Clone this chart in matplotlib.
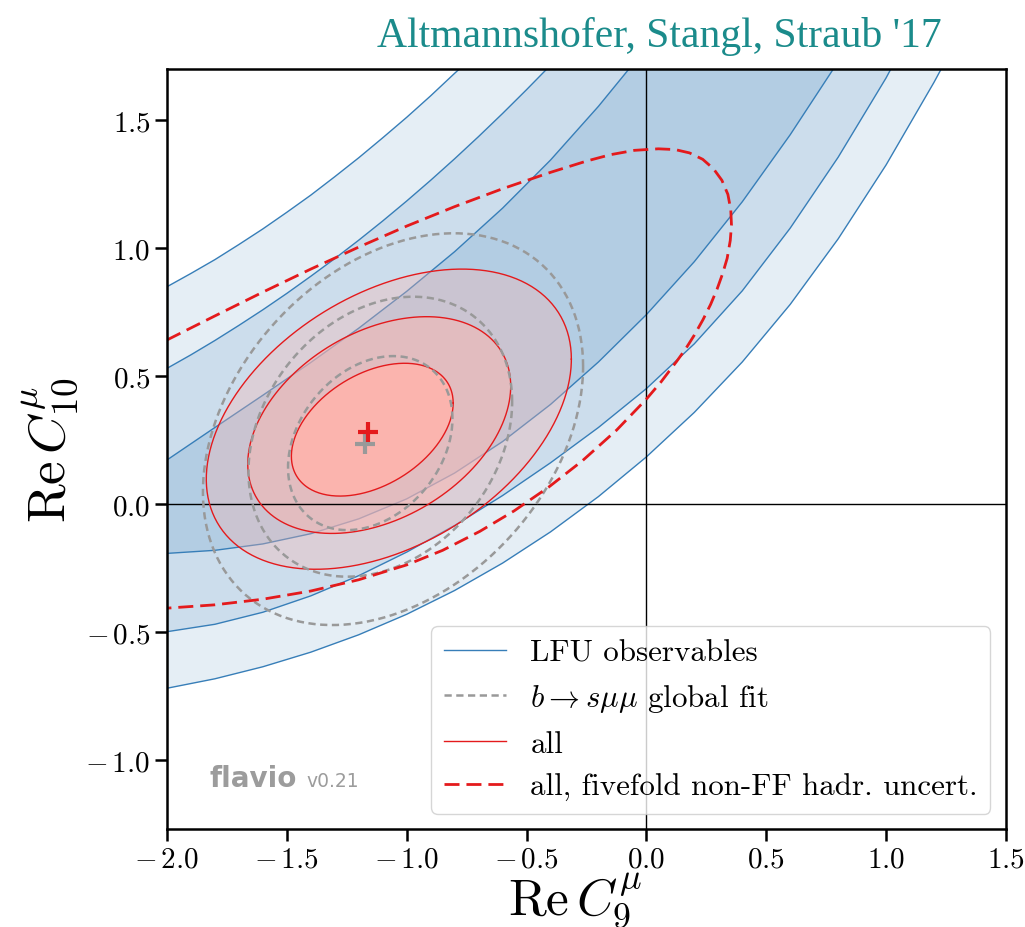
import matplotlib
matplotlib.use("Agg")
import matplotlib.pyplot as plt
import numpy as np
from matplotlib.path import Path
from matplotlib.patches import PathPatch
from matplotlib.lines import Line2D

plt.rcParams['mathtext.fontset'] = 'cm'
plt.rcParams['font.family'] = ['cmr10', 'DejaVu Serif']
plt.rcParams['axes.unicode_minus'] = False

# LFU observables: band edges (Re C9, Re C10)
# upper 3 sigma, upper 2 sigma, upper 1 sigma, lower 1 sigma, lower 2 sigma, lower 3 sigma
lfu_a_x = [-2.0, -1.9, -1.8, -1.7, -1.6, -1.5, -1.4, -1.3, -1.2, -1.1, -1.0, -0.9, -0.8, -0.78]
lfu_a_y = [0.849, 0.901, 0.955, 1.014, 1.075, 1.140, 1.207, 1.279, 1.353, 1.431, 1.511, 1.595, 1.683, 1.70]
lfu_b_x = [-2.0, -1.9, -1.8, -1.7, -1.6, -1.5, -1.4, -1.3, -1.2, -1.1, -1.0, -0.9, -0.8, -0.7, -0.6, -0.5, -0.41]
lfu_b_y = [0.530, 0.583, 0.639, 0.698, 0.759, 0.823, 0.890, 0.959, 1.031, 1.106, 1.184, 1.265, 1.349, 1.436, 1.526, 1.619, 1.705]
lfu_c_x = [-2.0, -1.8, -1.6, -1.4, -1.2, -1.0, -0.8, -0.6, -0.4, -0.2, -0.07]
lfu_c_y = [0.172, 0.299, 0.425, 0.553, 0.687, 0.831, 0.986, 1.156, 1.344, 1.554, 1.703]
lfu_d_x = [-2.0, -1.8, -1.6, -1.4, -1.2, -1.0, -0.8, -0.6, -0.4, -0.2, 0.0, 0.2, 0.4, 0.6, 0.78]
lfu_d_y = [-0.193, -0.181, -0.156, -0.116, -0.058, 0.020, 0.121, 0.244, 0.389, 0.555, 0.740, 0.947, 1.181, 1.443, 1.70]
lfu_e_x = [-2.0, -1.8, -1.6, -1.4, -1.2, -1.0, -0.8, -0.6, -0.4, -0.2, 0.0, 0.2, 0.4, 0.6, 0.8, 1.0, 1.02]
lfu_e_y = [-0.499, -0.470, -0.423, -0.359, -0.280, -0.188, -0.084, 0.033, 0.161, 0.299, 0.451,
           0.626, 0.833, 1.078, 1.355, 1.665, 1.70]
lfu_f_x = [-2.0, -1.8, -1.6, -1.4, -1.2, -1.0, -0.8, -0.6, -0.4, -0.2, 0.0, 0.2, 0.4, 0.6, 0.8, 1.0, 1.2, 1.23]
lfu_f_y = [-0.720, -0.683, -0.636, -0.579, -0.511, -0.431, -0.338, -0.231, -0.109, 0.029, 0.184,
           0.358, 0.555, 0.780, 1.036, 1.325, 1.648, 1.70]

# contours as (centre x, centre y, half width, half height, correlation), 1/2/3 sigma
all_cx = [-1.1435, -1.1145, -1.0745]
all_cy = [0.2905, 0.3085, 0.3315]
all_a = [0.3375, 0.5485, 0.7615]
all_b = [0.2595, 0.4235, 0.5865]
all_rho = [0.40, 0.36, 0.40]

bsmm_cx = [-1.152, -1.11, -1.057]
bsmm_cy = [0.238, 0.263, 0.2925]
bsmm_a = [0.343, 0.55, 0.793]
bsmm_b = [0.34, 0.547, 0.7655]
bsmm_rho = [0.28, 0.25, 0.32]

# fivefold non-FF hadronic uncertainty, 3 sigma line
five_x = [-2.0, -1.8, -1.6, -1.4, -1.2, -1.0, -0.8, -0.6, -0.4, -0.25, -0.15, -0.05, 0.05,
          0.12, 0.18, 0.235, 0.28, 0.315, 0.34, 0.352, 0.355, 0.35, 0.337, 0.318, 0.295,
          0.268, 0.236, 0.2, 0.163, 0.126, 0.061, 0.0, -0.124, -0.267, -0.409, -0.552,
          -0.695, -0.85, -1.0, -1.2, -1.4, -1.6, -1.8, -2.0]
five_y = [0.641, 0.735, 0.828, 0.918, 1.004, 1.086, 1.162, 1.232, 1.296, 1.340, 1.365, 1.382, 1.388,
          1.385, 1.372, 1.347, 1.31, 1.265, 1.21, 1.15, 1.09, 1.03, 0.96, 0.90, 0.84,
          0.78, 0.72, 0.66, 0.605, 0.557, 0.477, 0.41, 0.289, 0.169, 0.065, -0.027,
          -0.107, -0.181, -0.238, -0.296, -0.340, -0.372, -0.394, -0.407]

# best fit points
bf_all = (-1.161, 0.282)
bf_bsmm = (-1.172, 0.234)

xticks = [-2.0, -1.5, -1.0, -0.5, 0.0, 0.5, 1.0, 1.5]
yticks = [-1.0, -0.5, 0.0, 0.5, 1.0, 1.5]

blue, blue_fill = '#377eb8', '#b3cde3'
red, red_fill = '#e41a1c', '#fbb4ae'
gray = '#999999'


def ellipse_xy(cx, cy, a, b, rho, n=300):
    t = np.linspace(0, 2 * np.pi, n)
    return cx + a * np.cos(t), cy + b * (rho * np.cos(t) + np.sqrt(1 - rho ** 2) * np.sin(t))


def ring_patch(outer, inner, **kw):
    xo, yo = outer
    verts = list(zip(xo, yo))
    codes = [Path.MOVETO] + [Path.LINETO] * (len(xo) - 2) + [Path.CLOSEPOLY]
    if inner is not None:
        xi, yi = inner
        verts += list(zip(xi[::-1], yi[::-1]))
        codes += [Path.MOVETO] + [Path.LINETO] * (len(xi) - 2) + [Path.CLOSEPOLY]
    return PathPatch(Path(verts, codes), **kw)


def tick_label(v):
    if v < 0:
        return r'$-\,%.1f$' % abs(v)
    return r'$%.1f$' % v


fig = plt.figure(figsize=(10.25, 9.28), dpi=100)
ax = fig.add_axes([0.1629, 0.1056, 0.8185, 0.819])

# LFU bands
edges = [(lfu_a_x, lfu_a_y), (lfu_b_x, lfu_b_y), (lfu_c_x, lfu_c_y),
         (lfu_d_x, lfu_d_y), (lfu_e_x, lfu_e_y), (lfu_f_x, lfu_f_y)]
strip_alpha = [1 / 3, 2 / 3, 1.0, 2 / 3, 1 / 3]
for (x1, y1), (x2, y2), al in zip(edges[:-1], edges[1:], strip_alpha):
    ax.fill(list(x1) + list(x2)[::-1], list(y1) + list(y2)[::-1],
            color=blue_fill, alpha=al, lw=0, zorder=1)
for x, y in edges:
    ax.plot(x, y, color=blue, lw=1.0, zorder=1.1)

# all: filled 1/2/3 sigma
all_xy = [ellipse_xy(all_cx[i], all_cy[i], all_a[i], all_b[i], all_rho[i]) for i in range(3)]
ax.add_patch(ring_patch(all_xy[0], None, facecolor=red_fill, edgecolor='none', alpha=1.0, zorder=1.2))
ax.add_patch(ring_patch(all_xy[1], all_xy[0], facecolor=red_fill, edgecolor='none', alpha=2 / 3, zorder=1.2))
ax.add_patch(ring_patch(all_xy[2], all_xy[1], facecolor=red_fill, edgecolor='none', alpha=1 / 3, zorder=1.2))

ax.axhline(0, color='k', lw=1.0, zorder=1.3)
ax.axvline(0, color='k', lw=1.0, zorder=1.3)

for x, y in all_xy:
    ax.plot(x, y, color=red, lw=1.0, zorder=2)

for i in range(3):
    x, y = ellipse_xy(bsmm_cx[i], bsmm_cy[i], bsmm_a[i], bsmm_b[i], bsmm_rho[i])
    ax.plot(x, y, color=gray, lw=1.8, dashes=(2.9, 1.8), zorder=2.1)

ax.plot(five_x, five_y, color=red, lw=2.0, dashes=(5.4, 2.5), zorder=2.2)

ax.plot(*bf_bsmm, marker='+', color=gray, ms=14, mew=3, zorder=3)
ax.plot(*bf_all, marker='+', color=red, ms=14, mew=3, zorder=3.1)

ax.set_xlim(-2.0, 1.5)
ax.set_ylim(-1.27, 1.7)
ax.set_xticks(xticks)
ax.set_yticks(yticks)
ax.set_xticklabels([tick_label(v) for v in xticks])
ax.set_yticklabels([tick_label(v) for v in yticks])
ax.tick_params(direction='out', length=8.5, width=1.8, labelsize=21)
for s in ax.spines.values():
    s.set_linewidth(1.8)

ax.set_xlabel(r'$\mathrm{Re}\,C_9^\mu$', fontsize=37)
ax.xaxis.set_label_coords(0.486, -0.055)
ax.set_ylabel(r'$\mathrm{Re}\,C_{10}^\mu$', fontsize=38)

handles = [Line2D([], [], color=blue, lw=1.0),
           Line2D([], [], color=gray, lw=1.8, dashes=(2.9, 1.8)),
           Line2D([], [], color=red, lw=1.0),
           Line2D([], [], color=red, lw=2.0, dashes=(5.4, 2.5))]
labels = ['LFU observables', r'$b\to s\mu\mu$ global fit', 'all',
          'all, fivefold non-FF hadr. uncert.']
leg = ax.legend(handles, labels, loc='lower right', fontsize=22.3)
leg.set_zorder(5)

ax.text(0.051, 0.057, 'flavio', transform=ax.transAxes, family='DejaVu Sans',
        weight='bold', fontsize=20, color='#9c9c9c', va='baseline', zorder=4)
ax.text(0.166, 0.057, 'v0.21', transform=ax.transAxes, family='DejaVu Sans',
        fontsize=13.5, color='#9c9c9c', va='baseline', zorder=4)

fig.text(0.919, 0.9494, "Altmannshofer, Stangl, Straub '17", ha='right', va='baseline',
         fontsize=30, family='Liberation Serif', color='#1b8b8b')

fig.savefig('out.png', dpi=100)
